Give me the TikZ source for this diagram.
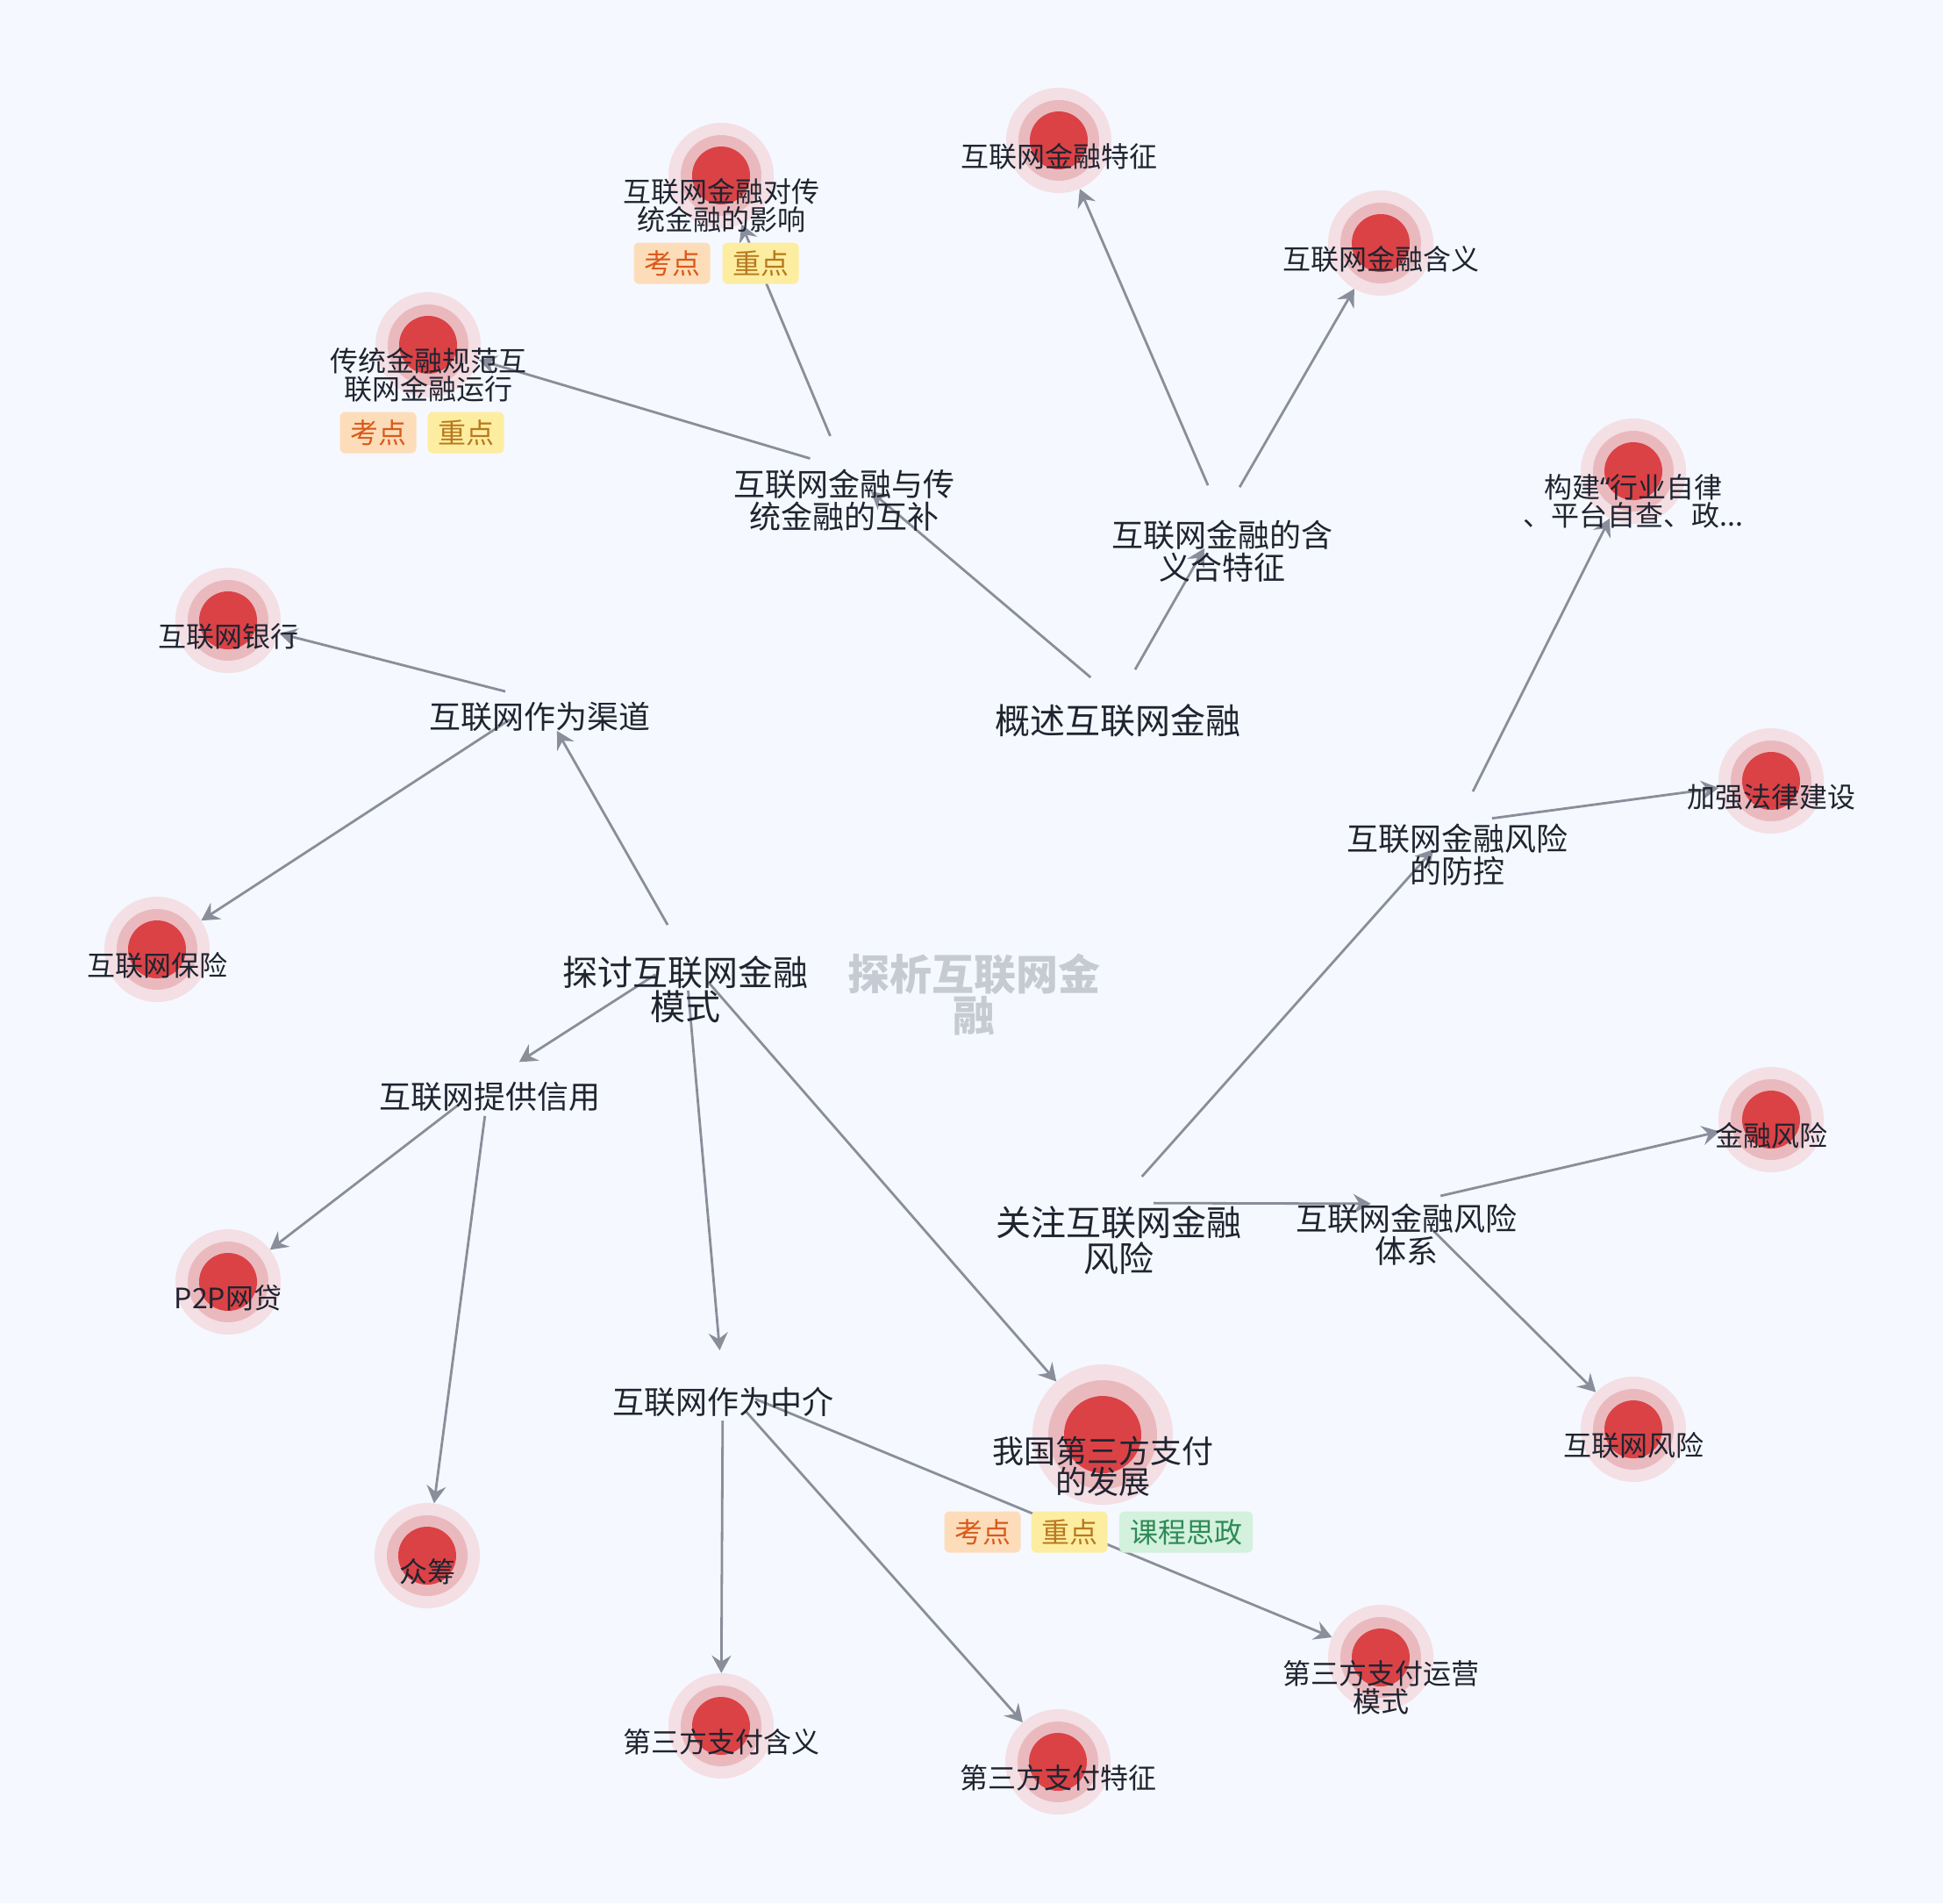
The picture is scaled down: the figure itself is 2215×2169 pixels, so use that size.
\documentclass[tikz,border=0pt]{standalone}
\usepackage{fontspec}
\setmainfont{Noto Sans CJK SC}
\newfontfamily\quotefont{Noto Sans}
\usepackage{tikz}
\usetikzlibrary{arrows.meta}
\definecolor{bg}{HTML}{F5F8FE}
\definecolor{ringout}{HTML}{F3DFE4}
\definecolor{ringmid}{HTML}{EAB9BE}
\definecolor{ringin}{HTML}{DA4246}
\definecolor{edgegray}{HTML}{8A8E9A}
\definecolor{ink}{HTML}{1F2430}
\definecolor{titlegray}{HTML}{C6CAD3}
\definecolor{kaofill}{HTML}{FDDDB9}
\definecolor{kaotext}{HTML}{DA5A1C}
\definecolor{zhongfill}{HTML}{FDEDA0}
\definecolor{zhongtext}{HTML}{B7791F}
\definecolor{szfill}{HTML}{D3F1DD}
\definecolor{sztext}{HTML}{2F8A57}
\newcommand{\zlines}[2]{\vtop{\lineskiplimit=-\maxdimen\baselineskip=#1\relax\halign{\hfil##\hfil\cr#2\crcr}}}

\begin{document}
\begin{tikzpicture}[x=1pt,y=-1pt,
    ball/.style n args={3}{circle,inner sep=0pt,minimum size=#1,fill=ringout,
        path picture={\fill[ringmid] (path picture bounding box.center) circle (#2);
            \fill[ringin] (path picture bounding box.center) circle (#3);}},
    leaf/.style={ball={120pt}{46pt}{33pt}},
    bigleaf/.style={ball={160pt}{62pt}{44pt}},
    hub/.style={circle,inner sep=0pt,minimum size=80pt},
    link/.style={draw=edgegray,line width=2.8pt,-{Stealth[length=20pt,width=22pt,inset=7pt]}},
    leaftxt/.style={anchor=base,inner sep=0pt,text=ink,font=\fontsize{32pt}{32pt}\selectfont},
    hubtxt/.style={anchor=base,inner sep=0pt,text=ink,font=\fontsize{36pt}{37pt}\selectfont},
    toptxt/.style={anchor=base,inner sep=0pt,text=ink,font=\fontsize{40pt}{40pt}\selectfont},
    tag/.style={rounded corners=6pt,inner sep=0pt,minimum height=47pt,minimum width=87pt,font=\fontsize{32pt}{32pt}\selectfont},
    kao/.style={tag,fill=kaofill,text=kaotext},
    zhong/.style={tag,fill=zhongfill,text=zhongtext},
    sizheng/.style={tag,fill=szfill,text=sztext,minimum width=152pt}]
    \fill[bg] (0,0) rectangle (2215,2169);
    \useasboundingbox (0,0) rectangle (2215,2169);

    \node[leaf] (yingxiang) at (822,200) {};
    \node[leaf] (tezheng) at (1207,160) {};
    \node[leaf] (hanyi2) at (1574,277) {};
    \node[leaf] (guifan) at (488,393) {};
    \node[leaf] (goujian) at (1862,537) {};
    \node[leaf] (yinhang) at (260,707) {};
    \node[leaf] (falv) at (2019,890) {};
    \node[leaf] (baoxian) at (179,1082) {};
    \node[leaf] (jinrong) at (2019,1276) {};
    \node[leaf] (p2p) at (260,1461) {};
    \node[leaf] (fengxian) at (1862,1629) {};
    \node[leaf] (zhongchou) at (487,1773) {};
    \node[bigleaf] (fazhan) at (1257,1635) {};
    \node[leaf] (yunying) at (1574,1889) {};
    \node[leaf] (zfhanyi) at (822,1967) {};
    \node[leaf] (zftezheng) at (1206,2008) {};

    \node[hub] (gaishu) at (1274,798) {};
    \node[hub] (hubu) at (962,534) {};
    \node[hub] (hanyi) at (1393,590) {};
    \node[hub] (qudao) at (615,798) {};
    \node[hub] (tantao) at (781,1089) {};
    \node[hub] (xinyong) at (558,1232) {};
    \node[hub] (zhongjie) at (824,1579) {};
    \node[hub] (guanzhu) at (1275,1371) {};
    \node[hub] (fangkong) at (1661,938) {};
    \node[hub] (tixi) at (1603,1372) {};

    \draw[link] (gaishu) -- (hubu);
    \draw[link] (gaishu) -- (hanyi);
    \draw[link] (hanyi) -- (tezheng);
    \draw[link] (hanyi) -- (hanyi2);
    \draw[link] (hubu) -- (yingxiang);
    \draw[link] (hubu) -- (guifan);
    \draw[link] (tantao) -- (qudao);
    \draw[link] (qudao) -- (yinhang);
    \draw[link] (qudao) -- (baoxian);
    \draw[link] (tantao) -- (xinyong);
    \draw[link] (tantao) -- (zhongjie);
    \draw[link] (tantao) -- (fazhan);
    \draw[link] (xinyong) -- (p2p);
    \draw[link] (xinyong) -- (zhongchou);
    \draw[link] (zhongjie) -- (zfhanyi);
    \draw[link] (zhongjie) -- (zftezheng);
    \draw[link] (zhongjie) -- (yunying);
    \draw[link] (guanzhu) -- (fangkong);
    \draw[link] (guanzhu) -- (tixi);
    \draw[link] (fangkong) -- (goujian);
    \draw[link] (fangkong) -- (falv);
    \draw[link] (tixi) -- (jinrong);
    \draw[link] (tixi) -- (fengxian);

    \node[anchor=base,inner sep=0pt,text=titlegray,font=\fontsize{48pt}{47pt}\selectfont\bfseries] (root) at (1110,1128) {\zlines{47pt}{探析互联网金\cr 融}};

    \node[toptxt] (gaishu-t) at (1274,836) {概述互联网金融};
    \node[toptxt] (tantao-t) at (781,1123) {\zlines{39pt}{探讨互联网金融\cr 模式}};
    \node[toptxt] (guanzhu-t) at (1275,1408) {\zlines{41pt}{关注互联网金融\cr 风险}};

    \node[hubtxt] (hubu-t) at (962,565) {\zlines{37pt}{互联网金融与传\cr 统金融的互补}};
    \node[hubtxt] (hanyi-t) at (1393,623) {\zlines{37pt}{互联网金融的含\cr 义合特征}};
    \node[hubtxt] (qudao-t) at (615,830) {互联网作为渠道};
    \node[hubtxt] (xinyong-t) at (558,1263) {互联网提供信用};
    \node[hubtxt] (zhongjie-t) at (824,1611) {互联网作为中介};
    \node[hubtxt] (fangkong-t) at (1661,969) {\zlines{37pt}{互联网金融风险\cr 的防控}};
    \node[hubtxt] (tixi-t) at (1603,1402) {\zlines{37pt}{互联网金融风险\cr 体系}};
    \node[hubtxt] (fazhan-t) at (1257,1667) {\zlines{35pt}{我国第三方支付\cr 的发展}};

    \node[leaftxt] (yingxiang-t) at (822,230) {\zlines{32pt}{互联网金融对传\cr 统金融的影响}};
    \node[leaftxt] (tezheng-t) at (1207,190) {互联网金融特征};
    \node[leaftxt] (hanyi2-t) at (1574,307) {互联网金融含义};
    \node[leaftxt] (guifan-t) at (488,423) {\zlines{32pt}{传统金融规范互\cr 联网金融运行}};
    \node[leaftxt] (goujian-t) at (1862,567) {\zlines{32pt}{构建{\quotefont “}行业自律\cr 、平台自查、政...}};
    \node[leaftxt] (yinhang-t) at (260,737) {互联网银行};
    \node[leaftxt] (falv-t) at (2019,920) {加强法律建设};
    \node[leaftxt] (baoxian-t) at (179,1112) {互联网保险};
    \node[leaftxt] (jinrong-t) at (2019,1306) {金融风险};
    \node[leaftxt] (p2p-t) at (260,1491) {P2P网贷};
    \node[leaftxt] (fengxian-t) at (1862,1659) {互联网风险};
    \node[leaftxt] (zhongchou-t) at (487,1803) {众筹};
    \node[leaftxt] (yunying-t) at (1574,1919) {\zlines{32pt}{第三方支付运营\cr 模式}};
    \node[leaftxt] (zfhanyi-t) at (822,1997) {第三方支付含义};
    \node[leaftxt] (zftezheng-t) at (1206,2038) {第三方支付特征};

    \node[kao] (yingxiang-k) at (766,300) {考点};
    \node[zhong] (yingxiang-z) at (867,300) {重点};
    \node[kao] (guifan-k) at (431,493) {考点};
    \node[zhong] (guifan-z) at (531,493) {重点};
    \node[kao] (fazhan-k) at (1120,1746) {考点};
    \node[zhong] (fazhan-z) at (1219,1746) {重点};
    \node[sizheng] (fazhan-s) at (1352,1746) {课程思政};
\end{tikzpicture}
\end{document}
